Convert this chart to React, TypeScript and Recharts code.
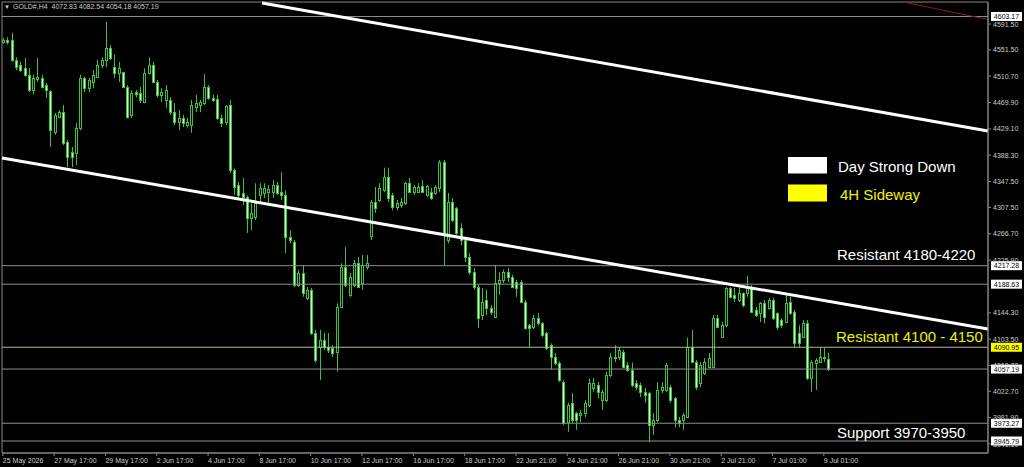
import React from "react";
import { ComposedChart, Bar, XAxis, YAxis, ReferenceLine, ReferenceArea } from "recharts";

// H4 candles (index 0 = 25 May 2026)
const open = [
  4564, 4566, 4567, 4536, 4528, 4523, 4513, 4489, 4506, 4508,
  4497, 4488, 4424, 4448, 4455, 4409, 4393, 4392, 4431, 4508,
  4492, 4502, 4510, 4528, 4536, 4554, 4525, 4516, 4517, 4494,
  4451, 4486, 4485, 4471, 4516, 4528, 4502, 4482, 4474, 4474,
  4455, 4440, 4446, 4435, 4435, 4463, 4466, 4469, 4494, 4477,
  4475, 4446, 4440, 4466, 4365, 4342, 4330, 4324, 4291, 4293,
  4327, 4330, 4331, 4331, 4342, 4331, 4327, 4262, 4254, 4187,
  4206, 4167, 4180, 4113, 4091, 4102, 4091, 4090, 4084, 4153,
  4215, 4172, 4187, 4221, 4190, 4215, 4263, 4316, 4319, 4334,
  4355, 4327, 4308, 4311, 4314, 4345, 4331, 4331, 4341, 4327,
  4331, 4330, 4338, 4378, 4257, 4316, 4307, 4276, 4257, 4231,
  4207, 4184, 4141, 4164, 4152, 4138, 4190, 4195, 4207, 4200,
  4192, 4192, 4161, 4125, 4122, 4136, 4128, 4113, 4094, 4076,
  4067, 4037, 3975, 4005, 3989, 3986, 3989, 4002, 4028, 4033,
  4009, 4009, 4048, 4074, 4076, 4084, 4063, 4056, 4036, 4033,
  4022, 4020, 3970, 3978, 4025, 4025, 4029, 4012, 3978, 3978,
  3983, 4091, 4068, 4036, 4051, 4060, 4060, 4136, 4107, 4125,
  4183, 4172, 4164, 4175, 4175, 4183, 4149, 4144, 4159, 4152,
  4164, 4144, 4133, 4130, 4161, 4145, 4113, 4107, 4128, 4043,
  4067, 4068, 4076, 4072.83,
];
const high = [
  4570, 4571, 4578, 4540, 4533, 4539, 4523, 4513, 4539, 4513,
  4500, 4489, 4454, 4458, 4466, 4412, 4401, 4438, 4513, 4510,
  4508, 4520, 4536, 4540, 4595, 4559, 4544, 4533, 4517, 4497,
  4489, 4489, 4494, 4523, 4540, 4533, 4505, 4492, 4497, 4478,
  4469, 4458, 4451, 4446, 4474, 4482, 4474, 4514, 4497, 4482,
  4482, 4451, 4466, 4474, 4368, 4347, 4353, 4326, 4314, 4345,
  4345, 4345, 4342, 4350, 4347, 4362, 4334, 4272, 4257, 4211,
  4218, 4184, 4183, 4118, 4118, 4113, 4113, 4094, 4159, 4221,
  4246, 4206, 4226, 4231, 4234, 4234, 4319, 4339, 4345, 4369,
  4369, 4330, 4319, 4322, 4347, 4353, 4342, 4345, 4350, 4342,
  4338, 4342, 4381, 4381, 4330, 4322, 4308, 4283, 4262, 4237,
  4214, 4187, 4183, 4180, 4156, 4218, 4207, 4211, 4214, 4203,
  4195, 4195, 4164, 4127, 4141, 4144, 4130, 4115, 4097, 4082,
  4069, 4040, 4005, 4020, 3991, 3994, 4009, 4043, 4043, 4037,
  4025, 4053, 4082, 4094, 4091, 4087, 4068, 4067, 4040, 4036,
  4028, 4022, 3989, 4037, 4037, 4067, 4033, 4014, 3983, 3989,
  4106, 4118, 4071, 4068, 4074, 4082, 4141, 4141, 4130, 4184,
  4184, 4183, 4184, 4176, 4202, 4187, 4153, 4161, 4164, 4167,
  4167, 4145, 4136, 4172, 4169, 4149, 4125, 4133, 4133, 4071,
  4074, 4091, 4090, 4082.54,
];
const low = [
  4561, 4560, 4533, 4520, 4517, 4510, 4486, 4482, 4502, 4492,
  4477, 4401, 4420, 4446, 4404, 4370, 4370, 4373, 4427, 4486,
  4486, 4492, 4508, 4523, 4525, 4536, 4508, 4502, 4492, 4445,
  4446, 4478, 4469, 4469, 4513, 4500, 4478, 4471, 4461, 4451,
  4435, 4427, 4432, 4431, 4423, 4455, 4455, 4466, 4474, 4471,
  4443, 4432, 4435, 4361, 4327, 4322, 4311, 4268, 4272, 4288,
  4314, 4322, 4314, 4322, 4327, 4319, 4237, 4252, 4184, 4184,
  4169, 4164, 4110, 4067, 4040, 4087, 4082, 4076, 4053, 4152,
  4184, 4169, 4184, 4183, 4180, 4211, 4257, 4299, 4316, 4331,
  4316, 4303, 4303, 4307, 4311, 4330, 4327, 4330, 4330, 4324,
  4319, 4327, 4331, 4218, 4252, 4285, 4265, 4249, 4223, 4203,
  4180, 4121, 4133, 4141, 4141, 4136, 4172, 4190, 4192, 4183,
  4169, 4160, 4118, 4091, 4119, 4125, 4107, 4087, 4056, 4063,
  4037, 3970, 3960, 3974, 3963, 3975, 3983, 3998, 4022, 4012,
  3994, 4006, 4045, 4068, 4071, 4059, 4053, 4029, 4025, 4014,
  4005, 3944, 3955, 3975, 4020, 4022, 4005, 3967, 3967, 3963,
  3981, 4067, 4025, 4029, 4048, 4059, 4059, 4121, 4105, 4122,
  4167, 4161, 4161, 4153, 4169, 4144, 4138, 4130, 4128, 4149,
  4133, 4118, 4121, 4128, 4141, 4091, 4091, 4105, 4040, 4022,
  4025, 4067, 4068, 4054.18,
];
const close = [
  4567, 4564, 4536, 4525, 4520, 4513, 4489, 4508, 4510, 4494,
  4489, 4427, 4451, 4455, 4407, 4386, 4386, 4431, 4508, 4492,
  4505, 4513, 4528, 4536, 4554, 4539, 4516, 4523, 4494, 4448,
  4485, 4483, 4474, 4516, 4528, 4502, 4482, 4486, 4489, 4455,
  4440, 4446, 4438, 4440, 4466, 4469, 4471, 4494, 4477, 4474,
  4446, 4438, 4465, 4365, 4339, 4327, 4324, 4291, 4299, 4314,
  4338, 4338, 4336, 4342, 4330, 4327, 4262, 4257, 4187, 4206,
  4175, 4180, 4113, 4071, 4102, 4091, 4087, 4082, 4153, 4215,
  4187, 4200, 4221, 4184, 4218, 4221, 4316, 4307, 4338, 4355,
  4322, 4308, 4314, 4316, 4345, 4331, 4339, 4339, 4331, 4341,
  4322, 4339, 4378, 4265, 4316, 4288, 4268, 4257, 4231, 4207,
  4184, 4137, 4161, 4152, 4145, 4190, 4195, 4207, 4200, 4184,
  4183, 4161, 4121, 4121, 4136, 4128, 4110, 4090, 4076, 4067,
  4040, 3974, 4002, 3978, 3978, 3989, 4005, 4036, 4036, 4022,
  4022, 4048, 4076, 4076, 4087, 4060, 4056, 4033, 4029, 4022,
  4017, 3970, 3978, 4025, 4029, 4063, 4009, 3978, 3974, 3986,
  4091, 4068, 4029, 4063, 4068, 4074, 4136, 4122, 4125, 4183,
  4169, 4167, 4175, 4156, 4183, 4145, 4141, 4159, 4138, 4164,
  4136, 4122, 4125, 4159, 4144, 4097, 4097, 4128, 4043, 4068,
  4071, 4076, 4074, 4057.19,
];

// one label every 12 bars
const timeLabels = [
  "25 May 2026", "27 May 17:00", "29 May 17:00", "2 Jun 17:00", "4 Jun 17:00",
  "8 Jun 17:00", "10 Jun 17:00", "12 Jun 17:00", "16 Jun 17:00", "18 Jun 17:00",
  "22 Jun 21:00", "24 Jun 21:00", "26 Jun 21:00", "30 Jun 21:00", "2 Jul 21:00",
  "7 Jul 01:00", "9 Jul 01:00",
];
const timeTicks = timeLabels.map((_, k) => k * 12);

// 4185.10 sits fully under the 4188.63 tag in the picture, so it is left out
const priceTicks = [
  4591.5, 4551.5, 4510.7, 4469.9, 4429.1, 4388.3, 4347.5, 4307.5, 4266.7,
  4225.9, 4144.3, 4103.5, 4062.7, 4022.7, 3981.9, 3941.1,
];

const levelPrices = [4603.17, 4217.28, 4188.63, 4090.95, 4057.19, 3973.27, 3945.79];
const markedLevel = 4090.95;

// trend lines: [bar index, price]
const channelUpper = [[60.6, 4624.1], [230.4, 4425.9]];
const channelLower = [[-0.2, 4384.0], [230.4, 4119.2]];
const redLine = [[211, 4625], [230.4, 4598.5]];

const X_MIN = -0.2;
const X_MAX = 230.4;
const Y_MIN = 3927.2;
const Y_MAX = 4625.6;

const GREEN = "#3cc23c";
const BEAR_FILL = "#cdf3c4";
const FRAME = "#858585";
const LEVEL = "#8e8e8e";
const AXIS_TEXT = "#cccccc";
const YELLOW = "#f0f000";
const FONT = "'Liberation Sans', Arial, sans-serif";

const candles = open.map((o, i) => ({
  i,
  open: o,
  high: high[i],
  low: low[i],
  close: close[i],
  range: [low[i], high[i]],
}));

function Candle(props: any) {
  const { x, y, width, height, payload } = props;
  if (!payload || x == null) return null;
  const top = Math.min(y, y + height);
  const bottom = Math.max(y, y + height);
  const span = payload.high - payload.low || 1;
  const py = (v: number) => top + ((payload.high - v) / span) * (bottom - top);
  const cx = Math.round(x + width / 2) + 0.5;
  const bodyTop = Math.round(py(Math.max(payload.open, payload.close))) + 0.5;
  const bodyBottom = Math.round(py(Math.min(payload.open, payload.close))) + 0.5;
  const bull = payload.close >= payload.open;
  return (
    <g>
      <line x1={cx} x2={cx} y1={top} y2={bottom} stroke={GREEN} strokeWidth={1} />
      <rect
        x={cx - 1}
        y={bodyTop}
        width={2}
        height={Math.max(0.01, bodyBottom - bodyTop)}
        fill={bull ? "#000000" : BEAR_FILL}
        stroke={GREEN}
        strokeWidth={1}
      />
    </g>
  );
}

function PriceTag(props: any) {
  const { viewBox, value, fill } = props;
  if (!viewBox) return null;
  const x = viewBox.x + viewBox.width + 3;
  const y = viewBox.y;
  return (
    <g>
      <rect x={x} y={y - 4.5} width={31} height={9} fill={fill} />
      <text x={x + 15.5} y={y + 2.6} textAnchor="middle" fontSize={7} fill="#000" fontFamily={FONT}>
        {value.toFixed(2)}
      </text>
    </g>
  );
}

function TimeTick(props: any) {
  const { x, y, payload } = props;
  const label = timeLabels[Math.round(payload.value / 12)];
  return (
    <g>
      <line x1={x} x2={x} y1={y} y2={y + 3} stroke={FRAME} />
      <text x={x} y={y + 10} fontSize={7} fill={AXIS_TEXT} fontFamily={FONT}>
        {label}
      </text>
    </g>
  );
}

const seg = (pts: number[][]) => pts.map(([x, y]) => ({ x, y }));

export default function App() {
  return (
    <div style={{ position: "absolute", left: 0, top: 0, width: 1024, height: 467, background: "#000" }}>
      <ComposedChart
        width={1024}
        height={467}
        data={candles}
        margin={{ top: 2, right: 0, bottom: 0, left: 2 }}
      >
        <XAxis
          dataKey="i"
          type="number"
          domain={[X_MIN, X_MAX]}
          allowDataOverflow
          ticks={timeTicks}
          interval={0}
          height={14}
          tickSize={0}
          tickMargin={0}
          tick={<TimeTick />}
          axisLine={{ stroke: FRAME }}
          tickLine={false}
        />
        <YAxis
          orientation="right"
          type="number"
          domain={[Y_MIN, Y_MAX]}
          allowDataOverflow
          ticks={priceTicks}
          interval={0}
          width={36}
          tickSize={3}
          tickMargin={2}
          tickFormatter={(v: number) => v.toFixed(2)}
          tick={{ fontSize: 7, fill: AXIS_TEXT, fontFamily: FONT }}
          axisLine={{ stroke: FRAME }}
          tickLine={{ stroke: FRAME }}
        />
        <ReferenceArea
          x1={X_MIN}
          x2={X_MAX}
          y1={Y_MIN}
          y2={Y_MAX}
          fill="none"
          stroke={FRAME}
          strokeWidth={1}
          ifOverflow="visible"
        />
        {levelPrices.map((p) => (
          <ReferenceLine
            key={p}
            y={p}
            stroke={p === markedLevel ? "#b8b48a" : LEVEL}
            strokeWidth={1}
            ifOverflow="visible"
            label={<PriceTag value={p} fill={p === markedLevel ? "#ffff00" : "#ffffff"} />}
          />
        ))}
        <Bar
          dataKey="range"
          barSize={3}
          shape={<Candle />}
          isAnimationActive={false}
        />
        <ReferenceLine segment={seg(channelUpper)} stroke="#ffffff" strokeWidth={3} ifOverflow="visible" />
        <ReferenceLine segment={seg(channelLower)} stroke="#ffffff" strokeWidth={3} ifOverflow="visible" />
        <ReferenceLine segment={seg(redLine)} stroke="#8b1a1a" strokeWidth={1} ifOverflow="visible" />
      </ComposedChart>
      <svg
        width={1024}
        height={467}
        style={{ position: "absolute", left: 0, top: 0, pointerEvents: "none" }}
        fontFamily={FONT}
      >
        <text x={4} y={9} fontSize={6} fill={AXIS_TEXT}>▼</text>
        <text x={13} y={9} fontSize={7} fill={AXIS_TEXT} style={{ whiteSpace: "pre" }}>
          {"GOLD#,H4  4072.83 4082.54 4054.18 4057.19"}
        </text>

        <rect x={788} y={157} width={39} height={16.5} fill="#ffffff" />
        <text x={838} y={171.5} fontSize={15} fill="#ffffff">Day Strong Down</text>
        <rect x={788} y={184.5} width={39} height={17} fill="#ffff00" />
        <text x={840} y={200} fontSize={15} fill={YELLOW}>4H Sideway</text>

        <text x={837} y={260} fontSize={15} fill="#ffffff">Resistant 4180-4220</text>
        <text x={836} y={341.5} fontSize={15} fill={YELLOW}>Resistant 4100 - 4150</text>
        <text x={837} y={438} fontSize={15} fill="#ffffff">Support 3970-3950</text>
      </svg>
    </div>
  );
}
